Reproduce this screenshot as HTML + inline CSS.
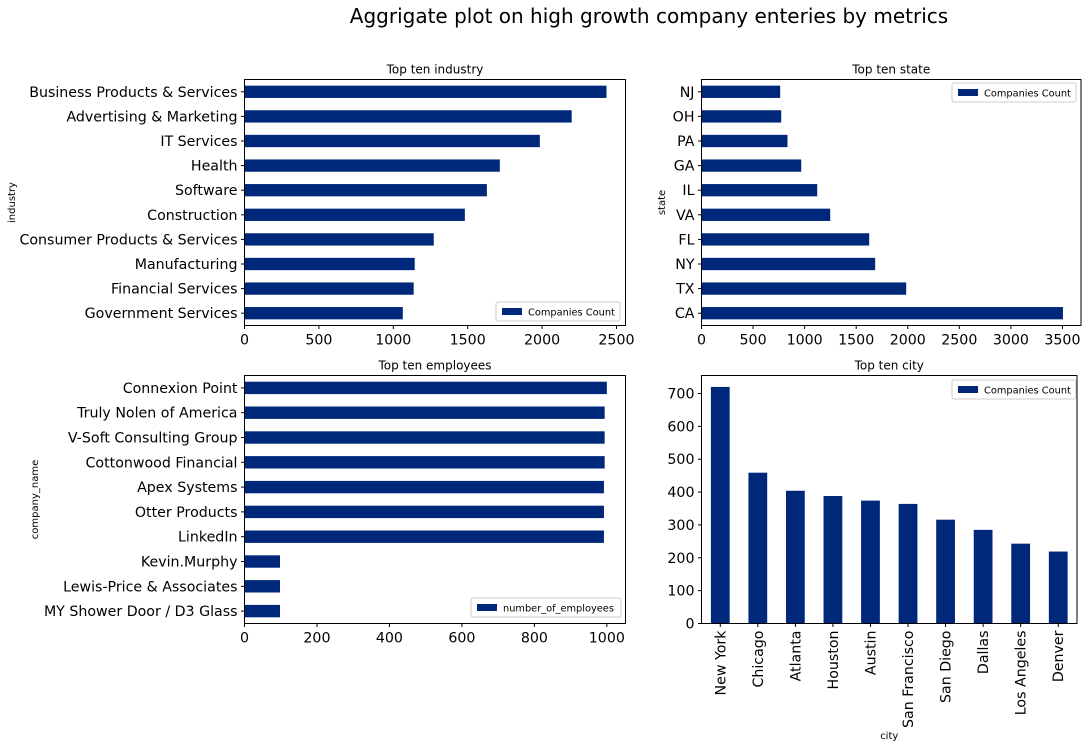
<!DOCTYPE html>
<html><head><meta charset="utf-8"><style>
body{margin:0;background:#fff;}
svg{display:block;font-family:"DejaVu Sans","Liberation Sans",sans-serif;}
</style></head><body>
<svg id="fig" width="1088" height="748" viewBox="0 0 1088 748" xmlns="http://www.w3.org/2000/svg">
<text x="649" y="23" font-size="20" text-anchor="middle" fill="#000">Aggrigate plot on high growth company enteries by metrics</text>
</svg>
<script>
const industryCats=["Business Products & Services","Advertising & Marketing","IT Services","Health","Software","Construction","Consumer Products & Services","Manufacturing","Financial Services","Government Services"];
const industryVals=[2433,2199,1985,1716,1629,1481,1272,1144,1137,1064];
const industryTicks=[0,500,1000,1500,2000,2500];
const stateCats=["NJ","OH","PA","GA","IL","VA","FL","NY","TX","CA"];
const stateVals=[763,773,834,967,1122,1248,1626,1684,1985,3505];
const stateTicks=[0,500,1000,1500,2000,2500,3000,3500];
const empCats=["Connexion Point","Truly Nolen of America","V-Soft Consulting Group","Cottonwood Financial","Apex Systems","Otter Products","LinkedIn","Kevin.Murphy","Lewis-Price & Associates","MY Shower Door / D3 Glass"];
const empVals=[1000,994,994,994,992,992,992,98,98,98];
const empTicks=[0,200,400,600,800,1000];
const cityCats=["New York","Chicago","Atlanta","Houston","Austin","San Francisco","San Diego","Dallas","Los Angeles","Denver"];
const cityVals=[720,459,404,388,374,364,316,285,243,219];
const cityTicks=[0,100,200,300,400,500,600,700];

const svg=document.getElementById('fig');
const NS="http://www.w3.org/2000/svg";
const C="#00287a";
function mk(tag,attrs,parent){const e=document.createElementNS(NS,tag);for(const k in attrs)e.setAttribute(k,attrs[k]);(parent||svg).appendChild(e);return e;}
function txt(x,y,s,size,anchor,parent,extra){const t=mk('text',Object.assign({x:x,y:y,'font-size':size,'text-anchor':anchor,fill:'#000'},extra||{}),parent);t.textContent=s;return t;}

function legend(g,x,y,w,label){
  const lg=mk('g',{},g);
  
  
  mk('rect',{x:x,y:y,width:w,height:19,rx:2,fill:'#fff',stroke:'#ccc'},lg);
  mk('rect',{x:x+6,y:y+6,width:20,height:7,fill:C},lg);
  txt(x+32,y+13.5,label,9.8,'start',lg);
}

function hpanel(name,L,R,T,B,xmax,cats,vals,ticks,title,ylab,ylx,leg){
  const g=mk('g',{});
  
  
  const sx=v=>L+(v/xmax)*(R-L);
  const n=cats.length, step=(B-T)/n;
  const sy=i=>T+step*(i+0.5);
  cats.forEach((c,i)=>{
    const r=mk('rect',{x:L,y:sy(i)-step/4,width:sx(vals[i])-L,height:step/2,fill:C},g);
    
    
    mk('line',{x1:L-3.5,x2:L,y1:sy(i),y2:sy(i),stroke:'#000'},g);
    const t=txt(L-7,sy(i)+5,c,14.2,'end',g);
    
    
  });
  ticks.forEach(v=>{
    mk('line',{x1:sx(v),x2:sx(v),y1:B,y2:B+3.5,stroke:'#000'},g);
    const t=txt(sx(v),B+19,String(v),14.2,'middle',g);
    
    
  });
  mk('rect',{x:L,y:T,width:R-L,height:B-T,fill:'none',stroke:'#000','stroke-width':1},g);
  const tt=txt((L+R)/2,T-6,title,12,'middle',g);
  
  
  const yl=txt(ylx,(T+B)/2,ylab,10,'middle',g,{transform:`rotate(-90 ${ylx} ${(T+B)/2})`});
  
  
  legend(g,leg[0],leg[1],leg[2],leg[3]);
}

hpanel('industry-chart',244.5,625.5,79.5,325.5,2560.7,industryCats,industryVals,industryTicks,'Top ten industry','industry',15,[496,302,124,'Companies Count']);
hpanel('state-chart',701.5,1081,79.5,325.5,3680,stateCats,stateVals,stateTicks,'Top ten state','state',665,[952,83,124,'Companies Count']);
hpanel('employees-chart',244.5,625.5,375.5,623.5,1051.5,empCats,empVals,empTicks,'Top ten employees','company_name',38,[471,598,150,'number_of_employees']);

(function(){
  const L=701.5,R=1077,T=375.5,B=623.5,ymax=754.8;
  const g=mk('g',{});
  
  
  const sy=v=>B-(v/ymax)*(B-T);
  const n=cityCats.length, step=(R-L)/n;
  const sx=i=>L+step*(i+0.5);
  cityCats.forEach((c,i)=>{
    const r=mk('rect',{x:sx(i)-step/4,y:sy(cityVals[i]),width:step/2,height:B-sy(cityVals[i]),fill:C},g);
    
    
    mk('line',{x1:sx(i),x2:sx(i),y1:B,y2:B+3.5,stroke:'#000'},g);
    const X=sx(i)+5,Y=B+7;
    const t=txt(X,Y,c,14.2,'end',g,{transform:`rotate(-90 ${X} ${Y})`});
    
    
  });
  cityTicks.forEach(v=>{
    mk('line',{x1:L-3.5,x2:L,y1:sy(v),y2:sy(v),stroke:'#000'},g);
    const t=txt(L-7,sy(v)+5,String(v),14.2,'end',g);
    
    
  });
  mk('rect',{x:L,y:T,width:R-L,height:B-T,fill:'none',stroke:'#000'},g);
  const tt=txt((L+R)/2,T-6,'Top ten city',12,'middle',g);
  
  
  const xl=txt((L+R)/2,739,'city',10,'middle',g);
  
  
  legend(g,952,380,124,'Companies Count');
})();
</script>
</body></html>
